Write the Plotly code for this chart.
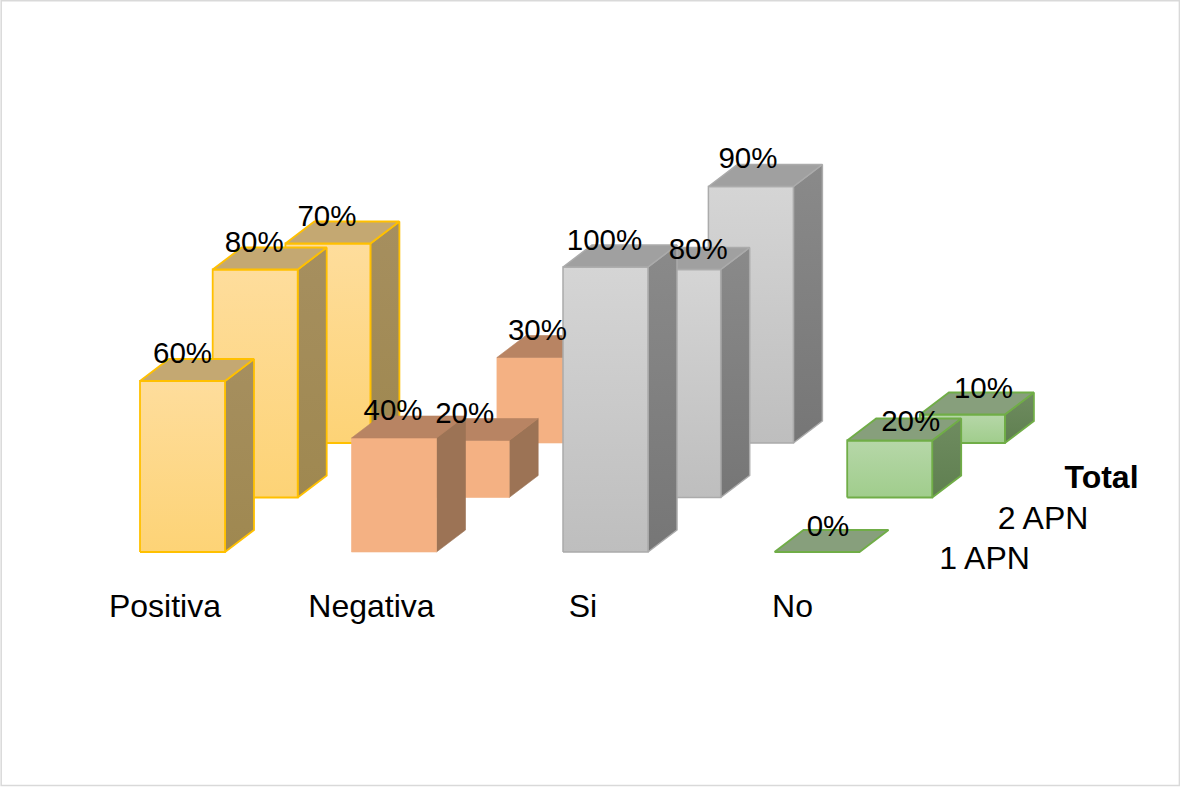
import plotly.graph_objects as go

categories = ["Positiva", "Negativa", "Si", "No"]
series_names = ["1 APN", "2 APN", "Total"]
apn1_values = [60, 40, 100, 0]
apn2_values = [80, 20, 80, 20]
total_values = [70, 30, 90, 10]

# Oblique projection, in axis units (one category = 1, y in percent)
PX_X = 211.5
PX_Y = 2.85
BAR_W = 85 / PX_X
SIDE_DX = 29 / PX_X
SIDE_DY = 22 / PX_Y
ROW_DX = 72.7 / PX_X
ROW_DY = 54.5 / PX_Y

# Manual nudges of the value labels (px right, px down), per row and category
LABEL_NUDGE = [
    [(0, 2), (-1, 2), (-1, 3), (11, 4)],
    [(-1, 2), (-2, 2), (20, 9), (21, 10)],
    [(-1, 2), (-2, 2), (-3, 1), (21, 3)],
]
CATEGORY_NUDGE = [25, 20, 20, 18]

STYLES = [
    dict(front=("#FEDD9C", "#FDD376"), top="#C4A872", side=("#A68F5F", "#9F8850"), line="#FFC000", lw=1.8),
    dict(front=("#F4B183", "#F4B183"), top="#B88463", side=("#9C7355", "#9C7355"), line=None, lw=0.6),
    dict(front=("#D5D5D5", "#BEBEBE"), top="#A0A0A0", side=("#8A8A8A", "#767676"), line="#ABABAB", lw=1.5),
    dict(front=("#B6D7A8", "#A0CD8C"), top="#879F7C", side=("#6F8C60", "#5F7F50"), line="#70AD47", lw=1.8),
]

fig = go.Figure()


def face(xs, ys, colors, line, lw):
    kw = dict(fillcolor=colors[0]) if colors[0] == colors[1] else dict(
        fillgradient=dict(type="vertical", colorscale=[[0, colors[1]], [1, colors[0]]])
    )
    fig.add_trace(go.Scatter(
        x=xs + xs[:1], y=ys + ys[:1], mode="lines", fill="toself",
        line=dict(color=line or colors[0], width=lw), hoverinfo="skip", showlegend=False, **kw,
    ))


rows = [apn1_values, apn2_values, total_values]
lab_x, lab_y, lab_t = [], [], []

for depth in [2, 1, 0]:
    for c, v in enumerate(rows[depth]):
        st = STYLES[c]
        x0 = c + depth * ROW_DX
        x1 = x0 + BAR_W
        b = depth * ROW_DY
        t = b + v
        if v > 0:
            face([x1, x1 + SIDE_DX, x1 + SIDE_DX, x1], [b, b + SIDE_DY, t + SIDE_DY, t], st["side"], st["line"], st["lw"])
            face([x0, x1, x1, x0], [b, b, t, t], st["front"], st["line"], st["lw"])
        face([x0, x1, x1 + SIDE_DX, x0 + SIDE_DX], [t, t, t + SIDE_DY, t + SIDE_DY], (st["top"], st["top"]), st["line"], st["lw"])
        nx, ny = LABEL_NUDGE[depth][c]
        lab_x.append(x0 + BAR_W / 2 + nx / PX_X)
        lab_y.append(t + (27 - ny) / PX_Y)
        lab_t.append(f"{v}%")

fig.add_trace(go.Scatter(
    x=lab_x, y=lab_y, text=lab_t, mode="text", textposition="middle center",
    textfont=dict(family="Liberation Sans", size=29.5, color="#000000"),
    hoverinfo="skip", showlegend=False,
))

# Category labels under the front row
fig.add_trace(go.Scatter(
    x=[i + n / PX_X for i, n in enumerate(CATEGORY_NUDGE)],
    y=[-57 / PX_Y] * len(categories),
    text=categories, mode="text", textposition="middle center",
    textfont=dict(family="Liberation Sans", size=32, color="#000000"),
    hoverinfo="skip", showlegend=False,
))

# Depth-axis labels
for d, name in enumerate(series_names):
    fig.add_trace(go.Scatter(
        x=[(984.5 + 58.5 * d - 140) / PX_X], y=[(552 - 561 + 40.5 * d) / PX_Y],
        text=[f"<b>{name}</b>" if name == "Total" else name],
        mode="text", textposition="middle center",
        textfont=dict(family="Liberation Sans", size=32, color="#000000"),
        hoverinfo="skip", showlegend=False,
    ))

fig.update_layout(
    width=1180, height=787, margin=dict(l=0, r=0, t=0, b=0),
    paper_bgcolor="#FFFFFF", plot_bgcolor="#FFFFFF", showlegend=False,
    xaxis=dict(range=[-140 / PX_X, (1180 - 140) / PX_X], visible=False, fixedrange=True),
    yaxis=dict(range=[-235 / PX_Y, 552 / PX_Y], visible=False, fixedrange=True),
    shapes=[dict(type="rect", xref="paper", yref="paper", x0=0.001, x1=0.9995, y0=0.002, y1=0.999,
                 line=dict(color="#D9D9D9", width=1.5), fillcolor="rgba(0,0,0,0)")],
)

fig.write_html(
    "out.html",
    config={"displayModeBar": False},
    post_script="document.body.style.margin='0';document.body.style.overflow='hidden';",
)
